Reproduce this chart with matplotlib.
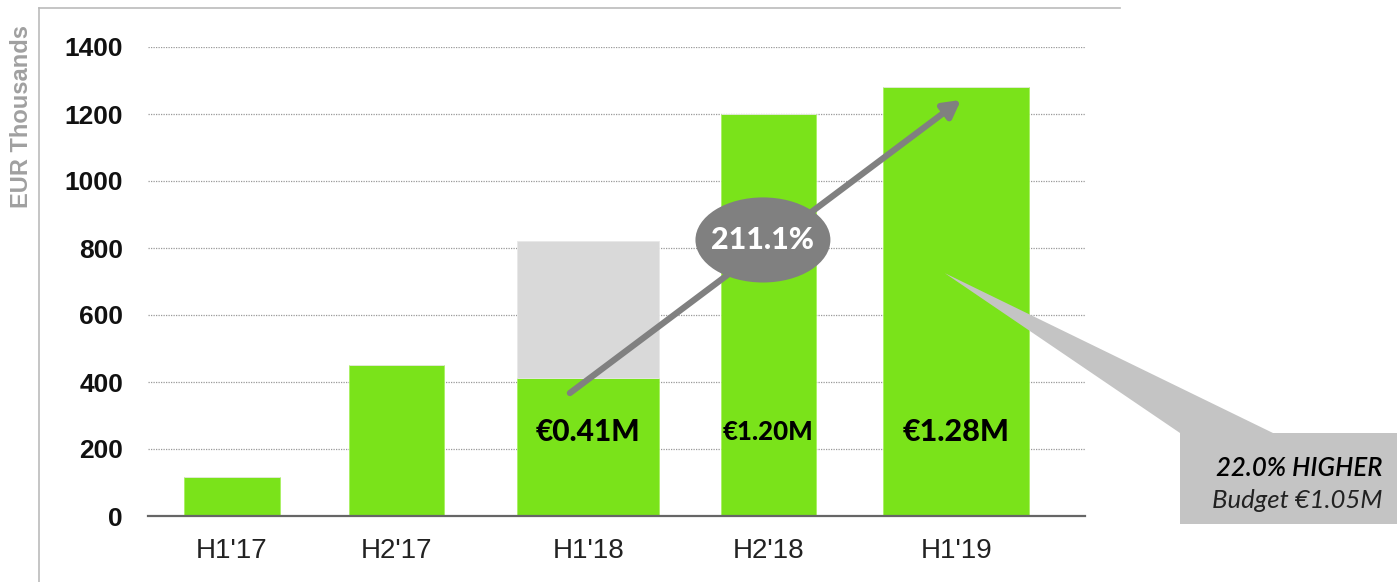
import matplotlib.pyplot as plt
import numpy as np
from matplotlib.patches import Ellipse, Polygon, Rectangle
from matplotlib.lines import Line2D

# Data
periods = ["H1'17", "H2'17", "H1'18", "H2'18", "H1'19"]
revenue = [115, 450, 412, 1200, 1280]          # EUR thousands (green)
budget_gap = [0, 0, 408, 0, 0]                 # grey part stacked on H1'18
bar_labels = ['', '', '€0.41M', '€1.20M', '€1.28M']
growth_label = '211.1%'
callout_lines = ['22.0% HIGHER', 'Budget €1.05M']
yticks = [0, 200, 400, 600, 800, 1000, 1200, 1400]

# layout (not data): uneven bar positions / widths as in the slide
xpos = [0.0, 1.0, 2.16, 3.25, 4.39]
widths = [0.576, 0.576, 0.86, 0.576, 0.885]
label_fs = [0, 0, 21.5, 18.5, 22]

green = '#7ae31a'
W, H = 1397, 582
fig = plt.figure(figsize=(W / 100, H / 100), dpi=100)
ax = fig.add_axes([148 / W, 66 / H, 937 / W, 469 / H])

ax.bar(xpos, revenue, width=widths, color=green, edgecolor='#a8f060', linewidth=0.6, zorder=2)
ax.bar(xpos, budget_gap, width=widths, bottom=revenue, color='#d9d9d9', edgecolor='#e8e8e8',
       linewidth=0.6, zorder=2)

for x, lab, fs in zip(xpos, bar_labels, label_fs):
    if lab:
        ax.text(x, 251, lab, ha='center', va='center', fontsize=fs, fontweight='black',
                family=['Lato', 'DejaVu Sans'], color='black', zorder=5)

ax.set_xlim(-0.509, 5.17)
ax.set_ylim(0, 1400)
ax.set_yticks(yticks)
ax.set_yticklabels([str(v) for v in yticks], fontsize=19, fontweight='bold',
                   family='Liberation Sans', color='#111111')
ax.set_xticks(xpos)
ax.set_xticklabels(periods, fontsize=20, family='Liberation Sans', color='#222222')
ax.tick_params(axis='y', length=0, pad=18)
ax.tick_params(axis='x', length=0, pad=16)

for s in ['top', 'right', 'left']:
    ax.spines[s].set_visible(False)
ax.spines['bottom'].set_color('#666666')
ax.spines['bottom'].set_linewidth(1.6)

for v in yticks[1:]:
    ax.axhline(v, color='#999999', linestyle=(0, (1, 1)), linewidth=0.9, zorder=1)

# growth arrow
ax.annotate('', xy=(4.418, 1242), xytext=(2.048, 367),
            arrowprops=dict(arrowstyle='-|>,head_length=1.0,head_width=0.55',
                            color='#808080', lw=4.5, shrinkA=0, shrinkB=0), zorder=4)
ax.add_patch(Ellipse((3.218, 824), 0.818, 254, facecolor='#808080', edgecolor='none', zorder=5))
ax.text(3.218, 824, growth_label, ha='center', va='center', fontsize=22, fontweight='black',
        family=['Lato', 'DejaVu Sans'], color='white', zorder=6)

fig.text(22 / W, 1 - 117 / H, 'EUR Thousands', rotation=90, ha='center', va='center',
         fontsize=17, fontweight='bold', family='Liberation Sans', color='#a0a0a0')

# slide frame
fig.add_artist(Line2D([39 / W, 39 / W], [0, 1 - 8 / H], color='#bbbbbb', lw=1.2,
                      transform=fig.transFigure))
fig.add_artist(Line2D([39 / W, 1120 / W], [1 - 8 / H, 1 - 8 / H], color='#bbbbbb', lw=1.2,
                      transform=fig.transFigure))

# callout
tip = fig.transFigure.inverted().transform(ax.transData.transform((4.32, 725)))
wedge = Polygon([tip, (1180 / W, 1 - 433 / H), (1273 / W, 1 - 433 / H)], closed=True,
                facecolor='#c4c4c4', edgecolor='none', transform=fig.transFigure, zorder=3)
fig.add_artist(wedge)
fig.add_artist(Rectangle((1180 / W, 1 - 524 / H), 217 / W, 91 / H, facecolor='#c4c4c4',
                         edgecolor='none', transform=fig.transFigure, zorder=3))
fig.text(1382 / W, 1 - 468 / H, callout_lines[0], ha='right', va='center', fontsize=18.5,
         style='italic', fontweight='semibold', family=['Lato', 'DejaVu Sans'], color='black',
         zorder=4)
fig.text(1382 / W, 1 - 500 / H, callout_lines[1], ha='right', va='center', fontsize=18.5,
         style='italic', family=['Lato', 'DejaVu Sans'], color='#222222', zorder=4)

fig.savefig('out.png', dpi=100)
